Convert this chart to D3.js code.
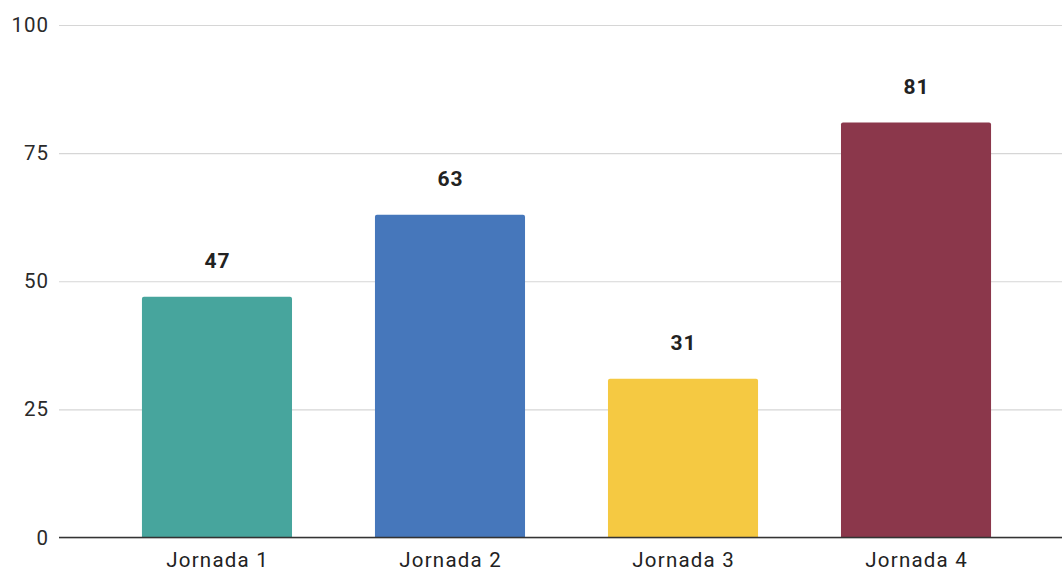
<!DOCTYPE html>
<html>
<head>
<meta charset="utf-8">
<script src="https://cdn.jsdelivr.net/npm/d3@7"></script>
<style>
  body { margin: 0; background: #fff; overflow: hidden; }
  text { font-family: Roboto, "Noto Sans", sans-serif; }
</style>
</head>
<body>
<div class="chart"></div>
<script>
const categories = ["Jornada 1", "Jornada 2", "Jornada 3", "Jornada 4"];
const values = [47, 63, 31, 81];
const barColors = ["#47a59d", "#4677bb", "#f5c942", "#8b374b"];
const yTicks = [0, 25, 50, 75, 100];

const width = 1062;
const height = 572;
const margin = { top: 25, right: -12, bottom: 34.5, left: 59 };

const svg = d3.select(".chart")
    .append("svg")
    .attr("width", width)
    .attr("height", height);

const x = d3.scaleBand()
    .domain(categories)
    .range([margin.left, width - margin.right])
    .paddingInner(0.356)
    .paddingOuter(0.356);

const y = d3.scaleLinear()
    .domain([0, 100])
    .range([height - margin.bottom, margin.top]);

// gridlines + tick labels
const yAxis = d3.axisLeft(y)
    .tickValues(yTicks)
    .tickSize(-(width - margin.left))
    .tickPadding(10)
    .tickFormat(d3.format("d"));

const gy = svg.append("g")
    .attr("transform", "translate(" + margin.left + ",0)")
    .call(yAxis);
gy.select(".domain").remove();
gy.selectAll(".tick line")
    .attr("stroke", "#d6d6d6")
    .attr("stroke-width", 1.2);
gy.selectAll(".tick text")
    .attr("fill", "#2a2a2a")
    .style("font-size", "20.5px")
    .style("letter-spacing", "1px");

// bars with slightly rounded tops
function barPath(x0, y0, w, h, r) {
    return "M" + x0 + "," + (y0 + h) +
        "V" + (y0 + r) +
        "Q" + x0 + "," + y0 + " " + (x0 + r) + "," + y0 +
        "H" + (x0 + w - r) +
        "Q" + (x0 + w) + "," + y0 + " " + (x0 + w) + "," + (y0 + r) +
        "V" + (y0 + h) + "Z";
}

svg.selectAll(".bar")
    .data(values)
    .enter()
    .append("path")
    .attr("class", "bar")
    .attr("fill", (d, i) => barColors[i])
    .attr("d", (d, i) => barPath(x(categories[i]), y(d), x.bandwidth(), y(0) - y(d), 2));

// value labels
svg.selectAll(".value")
    .data(values)
    .enter()
    .append("text")
    .attr("class", "value")
    .attr("x", (d, i) => x(categories[i]) + x.bandwidth() / 2 + 0.5)
    .attr("y", (d) => y(d) - 28.5)
    .attr("text-anchor", "middle")
    .attr("fill", "#222")
    .style("font-size", "21px")
    .style("font-weight", "bold")
    .style("letter-spacing", "1px")
    .text((d) => d);

// baseline axis
const xAxis = d3.axisBottom(x).tickSize(0).tickPadding(15);
const gx = svg.append("g")
    .attr("transform", "translate(0," + y(0) + ")")
    .call(xAxis);
gx.select(".domain")
    .attr("d", "M" + margin.left + ",0H" + width)
    .attr("stroke", "#333")
    .attr("stroke-width", 1.5);
gx.selectAll(".tick text")
    .attr("fill", "#222")
    .attr("x", 0.6)
    .style("font-size", "20.5px")
    .style("letter-spacing", "1.2px");
</script>
</body>
</html>
